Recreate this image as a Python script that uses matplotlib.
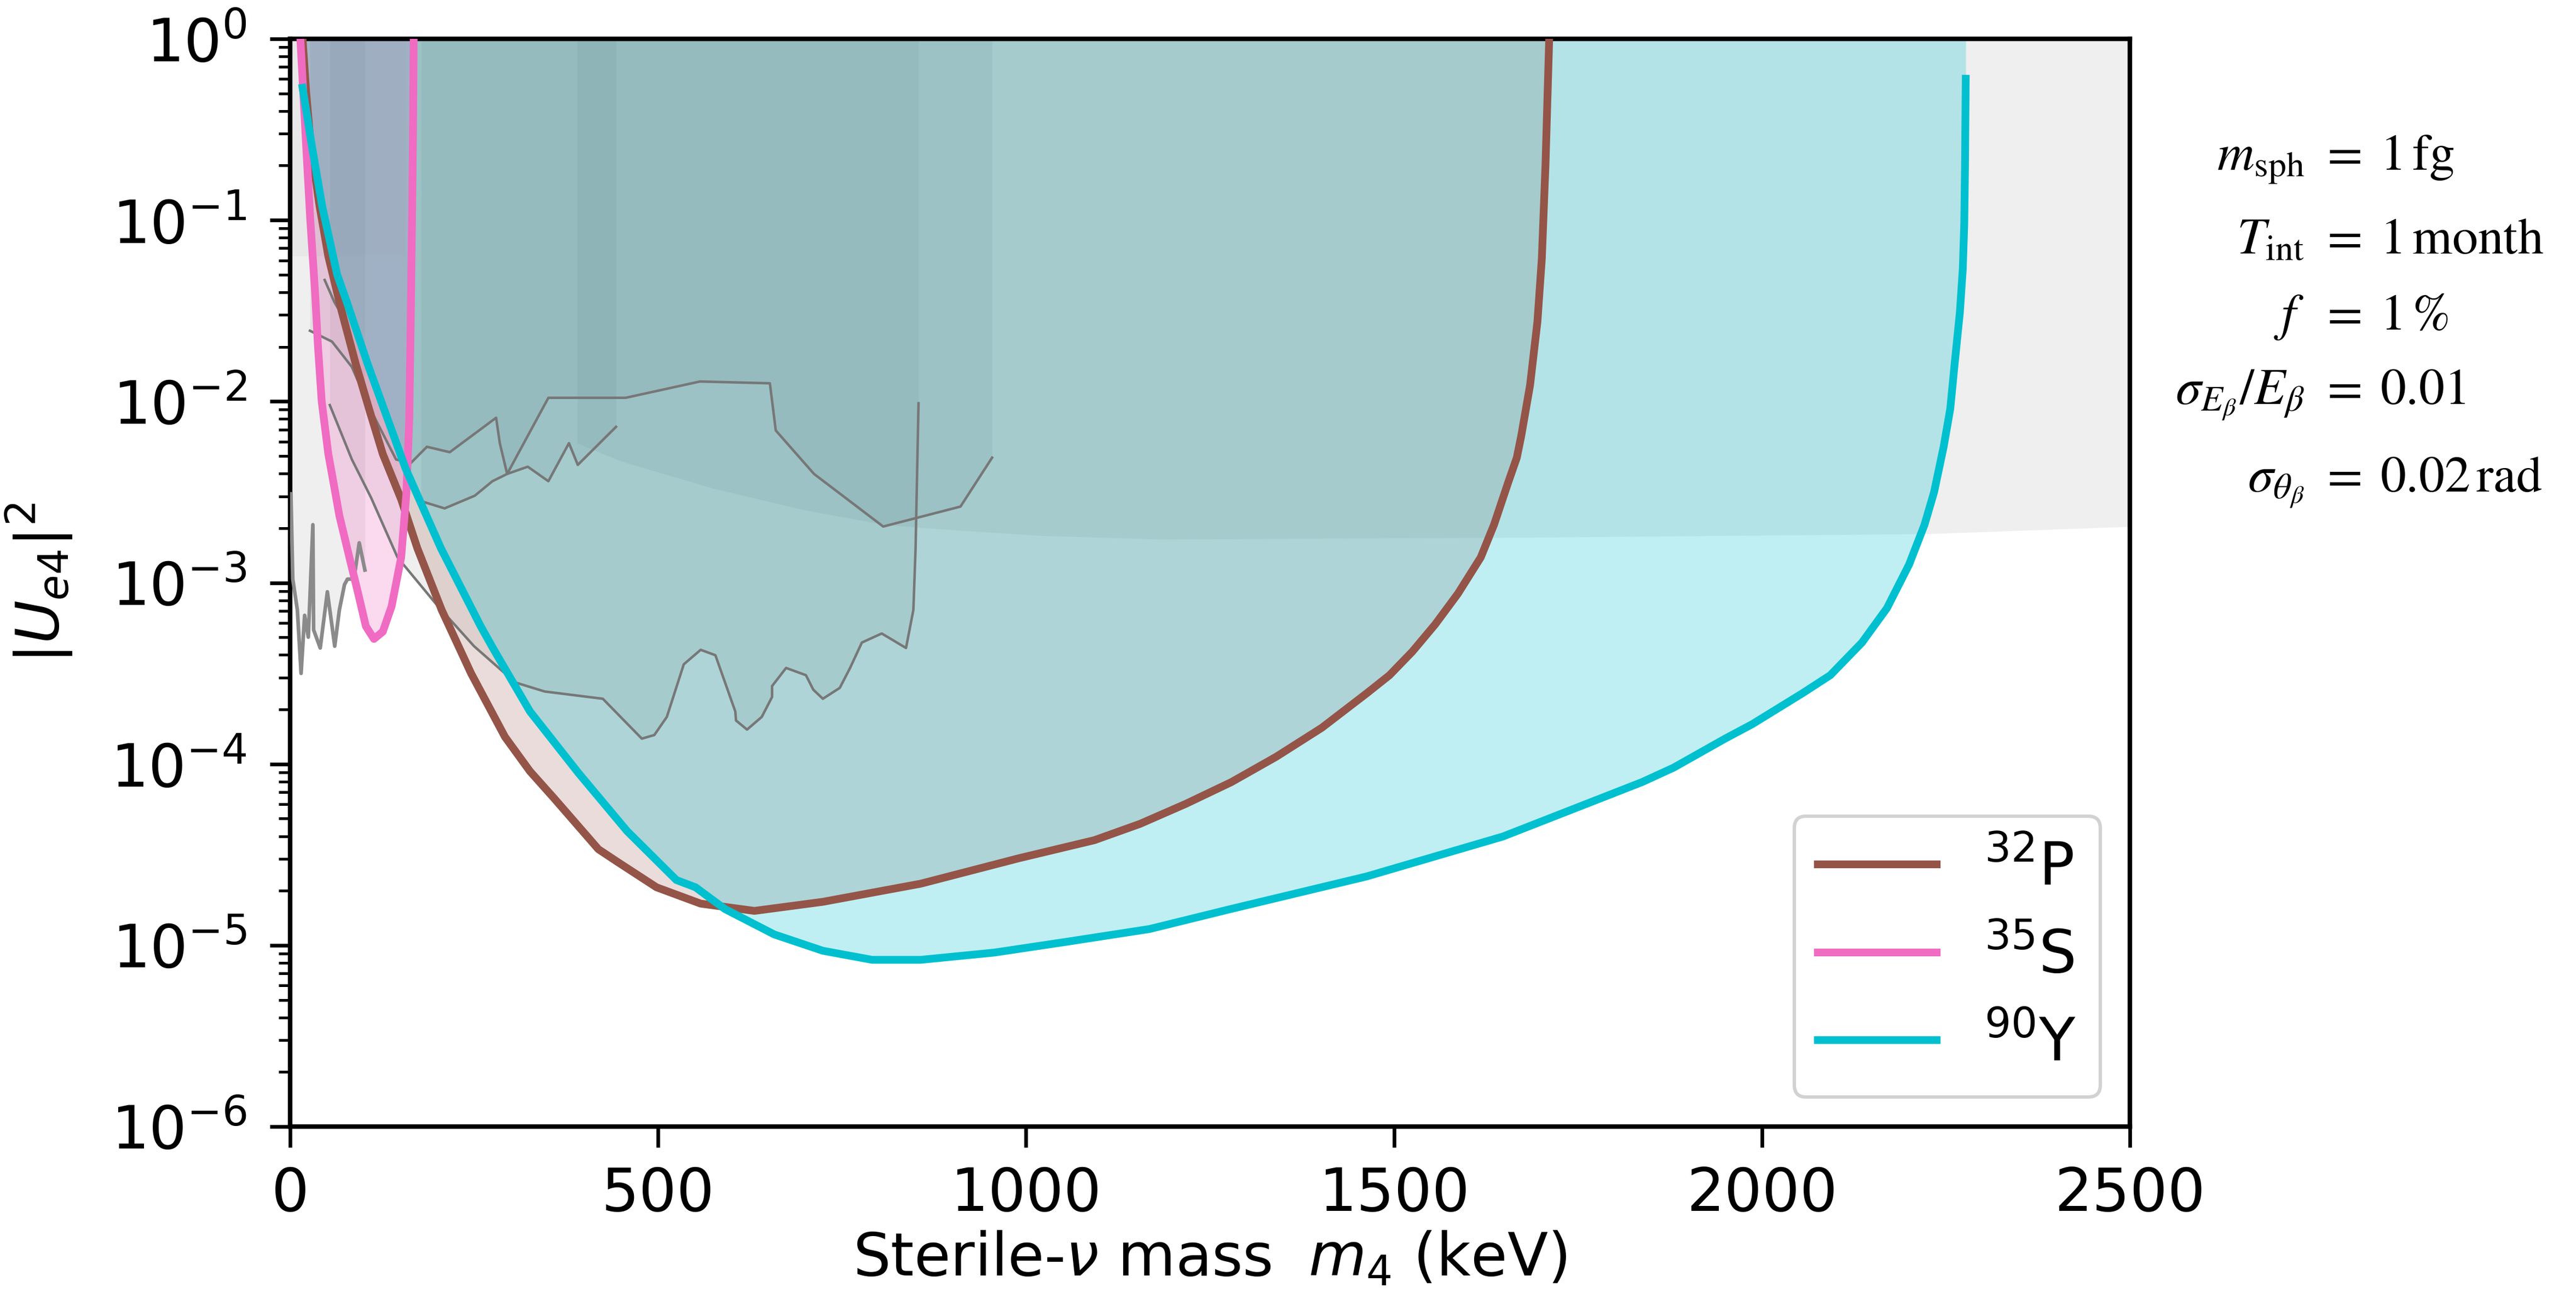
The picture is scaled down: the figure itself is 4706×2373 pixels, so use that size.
import numpy as np
import matplotlib
matplotlib.use("Agg")
import matplotlib.pyplot as plt

# sensitivity curves: sterile mass m4 in keV, mixing given as log10 |U_e4|^2
p32_m = [17, 22, 28, 40, 52, 70, 89, 108, 126, 151, 173, 206, 246, 292, 326, 359, 419, 445,
         498, 558, 631, 724, 857, 990, 1093, 1155, 1217, 1279, 1340, 1402, 1463, 1494, 1525,
         1556, 1587, 1618, 1636, 1655, 1667, 1673, 1685, 1695, 1701, 1706, 1711]
p32_log = [0.0, -0.30, -0.58, -0.92, -1.20, -1.50, -1.79, -2.05, -2.29, -2.54, -2.81, -3.15,
           -3.50, -3.85, -4.04, -4.19, -4.47, -4.54, -4.68, -4.77, -4.81, -4.76, -4.66, -4.52,
           -4.42, -4.33, -4.22, -4.10, -3.96, -3.80, -3.61, -3.51, -3.38, -3.23, -3.06, -2.86,
           -2.68, -2.45, -2.31, -2.19, -1.91, -1.56, -1.21, -0.69, 0.0]

s35_m = [14, 18, 22, 27.5, 34, 38, 43, 52, 60, 67, 80, 92, 103, 114, 126, 138, 151, 158, 162,
         164, 166, 167, 168]
s35_log = [0.0, -0.30, -0.60, -1.00, -1.40, -1.70, -2.00, -2.29, -2.47, -2.63, -2.85, -3.05,
           -3.24, -3.31, -3.27, -3.13, -2.86, -2.51, -2.10, -1.54, -0.90, -0.54, 0.0]

y90_m = [17, 30, 44, 64, 77, 106, 157, 205, 259, 277, 326, 392, 458, 525, 551, 591, 658, 724,
         791, 857, 957, 1056, 1168, 1278, 1463, 1648, 1837, 1880, 1950, 1987, 2055, 2093, 2136,
         2170, 2200, 2221, 2234, 2247, 2256, 2262, 2269, 2273, 2275, 2276, 2277]
y90_log = [-0.27, -0.60, -0.93, -1.30, -1.45, -1.80, -2.37, -2.81, -3.24, -3.37, -3.71, -4.05,
           -4.37, -4.64, -4.68, -4.80, -4.94, -5.03, -5.08, -5.08, -5.04, -4.98, -4.91, -4.80,
           -4.62, -4.40, -4.10, -4.02, -3.86, -3.78, -3.61, -3.51, -3.33, -3.14, -2.90, -2.68,
           -2.50, -2.25, -2.04, -1.79, -1.51, -1.27, -1.02, -0.71, -0.22]

# existing limits (grey)
lim_a_m = [54, 70, 84, 110, 146, 199, 250, 306, 346, 425, 478, 495, 512, 535, 558, 578, 605,
           606, 621, 641, 655, 655, 674, 701, 711, 724, 747, 761, 777, 804, 837, 847, 850, 854]
lim_a_log = [-2.02, -2.18, -2.32, -2.53, -2.86, -3.12, -3.35, -3.55, -3.60, -3.64, -3.86, -3.84,
             -3.74, -3.45, -3.37, -3.40, -3.71, -3.76, -3.81, -3.74, -3.63, -3.57, -3.47, -3.51,
             -3.59, -3.64, -3.58, -3.47, -3.33, -3.28, -3.36, -3.15, -2.81, -2.01]

lim_b_m = [178, 210, 251, 275, 295, 351, 456, 557, 652, 660, 712, 806, 911, 954]
lim_b_log = [-2.55, -2.59, -2.52, -2.44, -2.40, -1.98, -1.98, -1.89, -1.90, -2.16, -2.40, -2.69,
             -2.58, -2.31]

lim_c_m = [27, 57, 84, 110, 144, 164, 186, 217, 280, 285, 295, 323, 351, 379, 391, 443]
lim_c_log = [-1.61, -1.67, -1.81, -2.05, -2.32, -2.34, -2.25, -2.28, -2.09, -2.23, -2.40, -2.36,
             -2.44, -2.23, -2.35, -2.14]

lim_d_m = [47, 60, 70]
lim_d_log = [-1.33, -1.45, -1.52]

lim_w_m = [1.2, 3.7, 9.9, 15, 19.8, 24.8, 31, 32, 41, 50.7, 60.7, 67, 74, 78, 86.8, 94, 101.7]
lim_w_log = [-2.51, -2.98, -3.15, -3.50, -3.18, -3.30, -2.68, -3.26, -3.36, -3.05, -3.35, -3.15,
             -3.01, -2.98, -2.98, -2.78, -2.93]

lim_top_m = [0, 157]
lim_top_log = [-1.2, -1.2]

lim_big_m = [390, 450, 575, 700, 808, 870, 1019, 1183, 1674, 2227, 2500]
lim_big_log = [-2.23, -2.33, -2.48, -2.60, -2.68, -2.70, -2.74, -2.76, -2.75, -2.73, -2.69]

brown = "#955448"
pink = "#f06bc2"
cyan = "#00c0d0"
grey_fill = "#6b6b6b"


def u2(vals):
    return 10.0 ** np.array(vals)


fig = plt.figure(figsize=(4706 / 300, 2373 / 300), dpi=300)
ax = fig.add_axes([0.1126, 0.1327, 0.7142, 0.8374])

# grey excluded regions
for m, lg in [(lim_big_m, lim_big_log), (lim_a_m, lim_a_log), (lim_b_m, lim_b_log),
              (lim_c_m, lim_c_log), (lim_w_m, lim_w_log)]:
    ax.fill_between(m, u2(lg), 1.0, color=grey_fill, alpha=0.1, lw=0, zorder=1)
ax.fill_between(lim_top_m, u2(lim_top_log), 1.0, color=grey_fill, alpha=0.05, lw=0, zorder=1)

# projected sensitivity regions
ax.fill_between(p32_m, u2(p32_log), 1.0, color=brown, alpha=0.2, lw=0, zorder=2)
ax.fill_between(s35_m, u2(s35_log), 1.0, color=pink, alpha=0.25, lw=0, zorder=2)
ax.fill_between(y90_m, u2(y90_log), 1.0, color=cyan, alpha=0.25, lw=0, zorder=2)

for m, lg in [(lim_a_m, lim_a_log), (lim_b_m, lim_b_log), (lim_c_m, lim_c_log),
              (lim_d_m, lim_d_log)]:
    ax.plot(m, u2(lg), color="#777777", lw=1.1, zorder=3)
ax.plot(lim_w_m, u2(lim_w_log), color="#8a8a8a", lw=1.6, zorder=3)

ax.plot(p32_m, u2(p32_log), color=brown, lw=3.4, label=r"$^{32}$P", zorder=4)
ax.plot(s35_m, u2(s35_log), color=pink, lw=3.4, label=r"$^{35}$S", zorder=4)
ax.plot(y90_m, u2(y90_log), color=cyan, lw=3.4, label=r"$^{90}$Y", zorder=4)

ax.set_yscale("log")
ax.set_xlim(0, 2500)
ax.set_ylim(1e-6, 1)
ax.set_xticks([0, 500, 1000, 1500, 2000, 2500])
for s in ax.spines.values():
    s.set_linewidth(2)
ax.tick_params(axis="both", which="major", length=9, width=1.6, labelsize=26)
ax.tick_params(axis="y", which="minor", length=5, width=1.2)
ax.tick_params(axis="x", pad=8)
ax.tick_params(axis="y", pad=10)
ax.set_xlabel(r"Sterile-$\nu$ mass $\;m_4$ (keV)", fontsize=26, labelpad=3)
ax.set_ylabel(r"$|U_{e4}|^2$", fontsize=26, labelpad=16)

leg = ax.legend(loc="lower right", fontsize=26, framealpha=1, edgecolor="#d2d2d2",
                handlelength=2.0, fancybox=True)
leg.get_frame().set_linewidth(1.5)

# parameters, aligned on the equals sign
params = [
    (r"$m_\mathrm{sph}$", r"$=\;1\,\mathrm{fg}$", 310),
    (r"$T_\mathrm{int}$", r"$=\;1\,\mathrm{month}$", 463),
    (r"$f$", r"$=\;1\,\%$", 602),
    (r"$\sigma_{E_\beta}/E_\beta$", r"$=\;0.01$", 738),
    (r"$\sigma_{\theta_\beta}$", r"$=\;0.02\,\mathrm{rad}$", 898),
]
x_eq = 4238 / 4706
for lhs, rhs, ypix in params:
    yy = 1 - ypix / 2373
    fig.text(x_eq - 0.006, yy, lhs, ha="right", va="baseline", fontsize=22.5,
             math_fontfamily="stix")
    fig.text(x_eq, yy, rhs, ha="left", va="baseline", fontsize=22.5, math_fontfamily="stix")

fig.savefig("out.png", dpi=300)
